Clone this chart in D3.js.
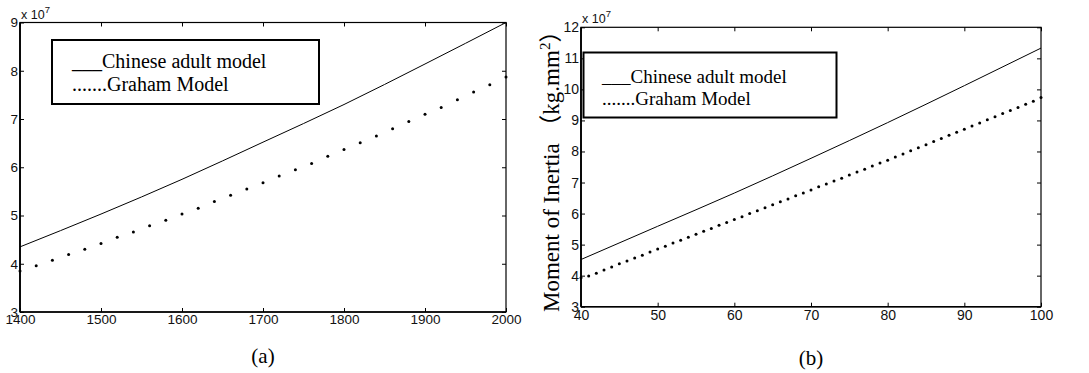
<!DOCTYPE html>
<html>
<head>
<meta charset="utf-8">
<script src="https://cdn.jsdelivr.net/npm/d3@7"></script>
<style>
  html, body { margin: 0; padding: 0; background: #fff; }
  svg { display: block; }
  .tick text { font-family: "Liberation Sans", Arial, sans-serif; fill: #111; }
  .domain { display: none; }
  .tick line { stroke: #000; stroke-width: 1; }
</style>
</head>
<body>
<svg id="chart" width="1089" height="373"></svg>
<script>
// ---------- data (values in units of 10^7 kg.mm^2) ----------
const seriesNames = ["___Chinese adult model", ".......Graham Model"];

// panel (a)
const aSolidX = [1400, 1500, 1600, 1700, 1800, 1900, 2000];
const aSolidY = [4.35, 5.03, 5.75, 6.52, 7.30, 8.14, 9.00];
const aDotX = [1400,1420,1440,1460,1480,1500,1520,1540,1560,1580,1600,1620,1640,1660,1680,1700,
               1720,1740,1760,1780,1800,1820,1840,1860,1880,1900,1920,1940,1960,1980,2000];
const aDotY = [3.85,3.96,4.07,4.19,4.30,4.42,4.55,4.66,4.79,4.90,5.03,5.15,5.29,5.42,5.55,5.68,
               5.82,5.95,6.08,6.23,6.37,6.51,6.65,6.80,6.95,7.10,7.24,7.40,7.56,7.71,7.87];
const aXTicks = [1400, 1500, 1600, 1700, 1800, 1900, 2000];
const aYTicks = [3, 4, 5, 6, 7, 8, 9];

// panel (b)
const bSolidX = [40, 50, 60, 70, 80, 90, 100];
const bSolidY = [4.52, 5.59, 6.66, 7.78, 8.93, 10.12, 11.33];
const bDotX = [40,41,42,43,44,45,46,47,48,49,50,51,52,53,54,55,56,57,58,59,60,
               61,62,63,64,65,66,67,68,69,70,71,72,73,74,75,76,77,78,79,80,
               81,82,83,84,85,86,87,88,89,90,91,92,93,94,95,96,97,98,99,100];
const bDotY = [3.93,3.99,4.08,4.18,4.28,4.38,4.47,4.57,4.66,4.76,4.86,4.95,5.05,5.14,5.24,5.33,5.43,5.52,5.62,5.71,5.81,
               5.90,6.00,6.09,6.19,6.28,6.38,6.47,6.57,6.66,6.76,6.86,6.95,7.05,7.14,7.24,7.34,7.43,7.53,7.63,7.72,
               7.82,7.92,8.02,8.12,8.22,8.32,8.42,8.52,8.62,8.72,8.82,8.92,9.02,9.12,9.22,9.32,9.42,9.52,9.62,9.74];
const bXTicks = [40, 50, 60, 70, 80, 90, 100];
const bYTicks = [3, 4, 5, 6, 7, 8, 9, 10, 11, 12];

const yLabelParts = ["Moment of Inertia （kg.mm", "2", "）"];

// ---------- drawing ----------
const svg = d3.select("#chart");

function panel(cfg) {
  const x = d3.scaleLinear().domain(cfg.xDomain).range([cfg.left, cfg.right]);
  const y = d3.scaleLinear().domain(cfg.yDomain).range([cfg.bottom, cfg.top]);
  const g = svg.append("g");

  // axes (ticks inward)
  const ax = [
    g.append("g").attr("transform", `translate(0,${cfg.bottom})`)
      .call(d3.axisBottom(x).tickValues(cfg.xTicks).tickFormat(d3.format("d")).tickSize(-4).tickPadding(cfg.xPad)),
    g.append("g").attr("transform", `translate(0,${cfg.top})`)
      .call(d3.axisTop(x).tickValues(cfg.xTicks).tickFormat("").tickSize(-4)),
    g.append("g").attr("transform", `translate(${cfg.left},0)`)
      .call(d3.axisLeft(y).tickValues(cfg.yTicks).tickFormat(d3.format("d")).tickSize(-4).tickPadding(2)),
    g.append("g").attr("transform", `translate(${cfg.right},0)`)
      .call(d3.axisRight(y).tickValues(cfg.yTicks).tickFormat("").tickSize(-4))
  ];
  ax.forEach(a => a.selectAll(".tick text").style("font-size", cfg.tickFs + "px"));

  // frame
  g.append("rect")
    .attr("x", cfg.left).attr("y", cfg.top)
    .attr("width", cfg.right - cfg.left).attr("height", cfg.bottom - cfg.top)
    .attr("fill", "none").attr("stroke", "#000").attr("stroke-width", 1.2);
  g.append("line").attr("x1", cfg.left).attr("x2", cfg.left).attr("y1", cfg.top).attr("y2", cfg.bottom)
    .attr("stroke", "#000").attr("stroke-width", 1.8);
  g.append("line").attr("x1", cfg.left).attr("x2", cfg.right).attr("y1", cfg.bottom).attr("y2", cfg.bottom)
    .attr("stroke", "#000").attr("stroke-width", 1.6);

  // exponent label
  const ex = g.append("text").attr("x", cfg.left + 1).attr("y", cfg.top - 4)
    .attr("font-family", "Liberation Sans, Arial, sans-serif").attr("font-size", 12.5).attr("fill", "#111");
  ex.append("tspan").text("x 10");
  ex.append("tspan").attr("dy", -6).attr("font-size", 9.5).text("7");

  // solid series
  const line = d3.line().x(d => x(d[0])).y(d => y(d[1])).curve(d3.curveMonotoneX);
  g.append("path")
    .datum(cfg.solidX.map((v, i) => [v, cfg.solidY[i]]))
    .attr("d", line).attr("fill", "none").attr("stroke", "#000").attr("stroke-width", 1);

  // dotted series
  g.selectAll("circle.dot")
    .data(cfg.dotX.map((v, i) => [v, cfg.dotY[i]]))
    .join("circle").attr("class", "dot")
    .attr("cx", d => x(d[0])).attr("cy", d => y(d[1])).attr("r", cfg.dotR).attr("fill", "#000");

  // legend
  const L = cfg.legend;
  g.append("rect").attr("x", L.x).attr("y", L.y).attr("width", L.w).attr("height", L.h)
    .attr("fill", "#fff").attr("stroke", "#000").attr("stroke-width", 2);
  seriesNames.forEach((name, i) => {
    g.append("text").attr("x", L.tx).attr("y", L.ty + i * L.dy)
      .attr("font-family", "Liberation Serif, 'Times New Roman', serif").attr("font-size", L.fs)
      .attr("fill", "#000").text(name);
  });

  // caption
  g.append("text").attr("x", (cfg.left + cfg.right) / 2).attr("y", cfg.capY)
    .attr("text-anchor", "middle")
    .attr("font-family", "Liberation Serif, 'Times New Roman', serif").attr("font-size", 21)
    .attr("fill", "#000").text(cfg.caption);
  return { x, y, g };
}

panel({
  xDomain: [1400, 2000], yDomain: [3, 9],
  left: 20, right: 506, top: 22.5, bottom: 312,
  xTicks: aXTicks, yTicks: aYTicks, xPad: 2, tickFs: 13.5,
  solidX: aSolidX, solidY: aSolidY, dotX: aDotX, dotY: aDotY, dotR: 1.5,
  legend: { x: 52, y: 40, w: 267, h: 64, tx: 72, ty: 68, dy: 22.5, fs: 20 },
  caption: "(a)", capY: 363
});

panel({
  xDomain: [40, 100], yDomain: [3, 12],
  left: 581, right: 1041, top: 27.3, bottom: 306.7,
  xTicks: bXTicks, yTicks: bYTicks, xPad: 3, tickFs: 14,
  solidX: bSolidX, solidY: bSolidY, dotX: bDotX, dotY: bDotY, dotR: 1.5,
  legend: { x: 583.5, y: 52.5, w: 253, h: 65, tx: 602, ty: 82.5, dy: 22.5, fs: 19 },
  caption: "(b)", capY: 365
});

// y-axis title of panel (b)
const yl = svg.append("text")
  .attr("transform", "translate(559,312) rotate(-90)")
  .attr("font-family", "Liberation Serif, 'Times New Roman', 'Noto Sans CJK SC', serif")
  .attr("font-size", 23).attr("fill", "#000");
yl.append("tspan").text(yLabelParts[0]);
yl.append("tspan").attr("dy", -9).attr("font-size", 15).text(yLabelParts[1]);
yl.append("tspan").attr("dy", 9).text(yLabelParts[2]);
</script>
</body>
</html>
